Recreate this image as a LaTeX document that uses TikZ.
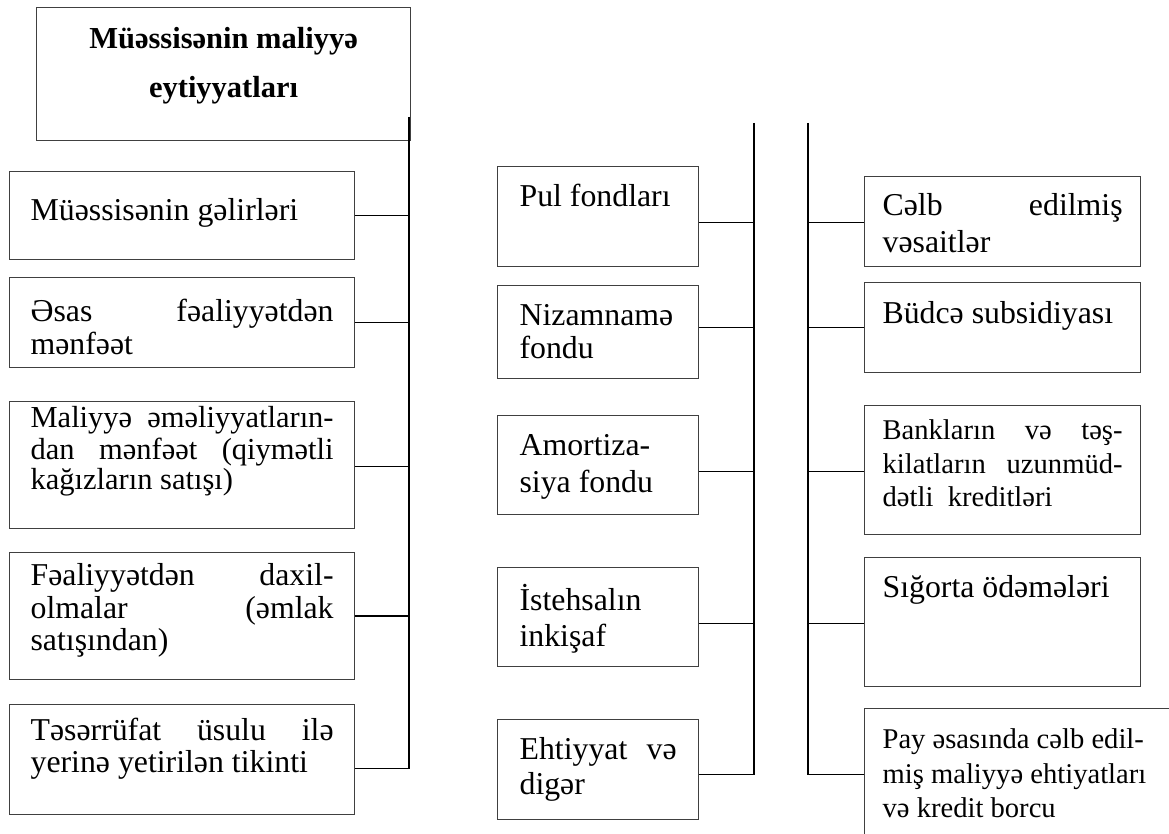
\documentclass[tikz,border=0pt]{standalone}
\usepackage{fontspec}
\setmainfont{Liberation Serif}
\usepackage{tikz}
\usetikzlibrary{positioning,calc}

% box text: height, width, first baseline, line skip, text
\newcommand{\cellText}[5]{\parbox[c][#1pt][t]{#2pt}{\baselineskip=#4pt\relax\vspace*{\dimexpr#3pt-\ht\strutbox\relax}\strut#5}}
\newcommand{\fullLine}[1]{\makebox[\linewidth][s]{#1}}

\begin{document}
\begin{tikzpicture}[x=1pt,y=-1pt]

    \tikzstyle{commonNode}=[draw=black!75, line width=1.2pt, anchor=north west, inner ysep=0pt, font=\fontsize{31.8}{32.5}\selectfont]
    \tikzstyle{leftBox}=[commonNode, inner xsep=21pt]
    \tikzstyle{midBox}=[commonNode, inner xsep=22pt]
    \tikzstyle{rightBox}=[commonNode, inner xsep=18pt]
    \tikzstyle{smallText}=[font=\fontsize{28.6}{30}\selectfont]
    \tikzstyle{mediumText}=[font=\fontsize{30.5}{30}\selectfont]
    \tikzstyle{titleBox}=[commonNode, inner xsep=10pt, font=\fontsize{30.5}{32}\selectfont\bfseries]
    \tikzstyle{spine}=[line width=2pt, black]
    \tikzstyle{link}=[line width=1.6pt, black]

    \useasboundingbox (0,0) rectangle (1169,834);
    \clip (0,0) rectangle (1169,834);

    % Title
    \node at (36,7) [titleBox] (title) {\cellText{133}{354}{41}{49}{\centering Müəssisənin maliyyə\\ eytiyyatları}};

    % Left column
    \node at (9,171) [leftBox] (L1) {\cellText{88}{303}{49}{32.5}{Müəssisənin gəlirləri}};
    \node at (9,277) [leftBox] (L2) {\cellText{90}{303}{44}{32}{\fullLine{Əsas fəaliyyətdən}\\ mənfəət}};
    \node at (9,401) [leftBox, mediumText] (L3) {\cellText{127}{303}{26}{30}{\fullLine{Maliyyə əməliyyatların-}\\ \fullLine{dan mənfəət (qiymətli}\\ kağızların satışı)}};
    \node at (9,552) [leftBox] (L4) {\cellText{127}{303}{33}{32.5}{\fullLine{Fəaliyyətdən daxil-}\\ \fullLine{olmalar (əmlak}\\ satışından)}};
    \node at (9,704) [leftBox] (L5) {\cellText{110}{303}{36}{32}{\fullLine{Təsərrüfat üsulu ilə}\\ yerinə yetirilən tikinti}};

    % Middle column
    \node at (497,166) [midBox] (M1) {\cellText{100}{157}{40}{35}{Pul fondları}};
    \node at (497,285) [midBox] (M2) {\cellText{93}{157}{40}{33}{Nizamnamə\\ fondu}};
    \node at (497,415) [midBox] (M3) {\cellText{99}{157}{40}{36.5}{Amortiza-\\ siya fondu}};
    \node at (497,567) [midBox] (M4) {\cellText{99}{157}{39}{36}{İstehsalın\\ inkişaf}};
    \node at (497,719) [midBox] (M5) {\cellText{100}{157}{39.5}{35}{\fullLine{Ehtiyyat və}\\ digər}};

    % Right column
    \node at (864,176) [rightBox] (R1) {\cellText{90}{240}{39}{36.5}{\fullLine{Cəlb edilmiş}\\ vəsaitlər}};
    \node at (864,282) [rightBox] (R2) {\cellText{90}{240}{40.5}{35}{Büdcə subsidiyası}};
    \node at (864,405) [rightBox, smallText] (R3) {\cellText{129}{240}{34}{33.5}{\fullLine{Bankların və təş-}\\ \fullLine{kilatların uzunmüd-}\\ dətli\ \ kreditləri}};
    \node at (864,557) [rightBox] (R4) {\cellText{129}{240}{40}{35}{Sığorta ödəmələri}};
    \node at (864,708) [rightBox, smallText] (R5) {\cellText{132}{290}{40}{34.5}{Pay əsasında cəlb edil-\\ miş maliyyə ehtiyatları\\ və kredit borcu}};

    % Spines
    \coordinate (spineL) at (409,117);
    \coordinate (spineM) at (754,123);
    \coordinate (spineR) at (808,123);

    % Connector points
    \coordinate (cL1) at (L1.east);
    \coordinate (cL2) at (L2.east);
    \coordinate (cL3) at ([yshift=-1.5pt]L3.east);
    \coordinate (cL4) at (L4.east);
    \coordinate (cL5) at ([yshift=-9pt]L5.east);
    \coordinate (cM1) at ([yshift=-6pt]M1.east);
    \coordinate (cM2) at ([yshift=4.5pt]M2.east);
    \coordinate (cM3) at ([yshift=-6.5pt]M3.east);
    \coordinate (cM4) at ([yshift=-6.5pt]M4.east);
    \coordinate (cM5) at ([yshift=-5pt]M5.east);
    \coordinate (cR1) at ([yshift=-1pt]R1.west);
    \coordinate (cR2) at (R2.west);
    \coordinate (cR3) at ([yshift=-1.5pt]R3.west);
    \coordinate (cR4) at ([yshift=-1.5pt]R4.west);
    \coordinate (cR5) at (R5.west);

    \draw[spine] (spineL) -- (spineL |- cL5);
    \draw[spine] (spineM) -- (spineM |- cM5);
    \draw[spine] (spineR) -- (spineR |- cR5);

    \draw[link] (cL1) -- (cL1 -| spineL);
    \draw[link] (cL2) -- (cL2 -| spineL);
    \draw[link] (cL3) -- (cL3 -| spineL);
    \draw[link] (cL4) -- (cL4 -| spineL);
    \draw[link] (cL5) -- (cL5 -| spineL);

    \draw[link] (cM1) -- (cM1 -| spineM);
    \draw[link] (cM2) -- (cM2 -| spineM);
    \draw[link] (cM3) -- (cM3 -| spineM);
    \draw[link] (cM4) -- (cM4 -| spineM);
    \draw[link] (cM5) -- (cM5 -| spineM);

    \draw[link] (spineR |- cR1) -- (cR1);
    \draw[link] (spineR |- cR2) -- (cR2);
    \draw[link] (spineR |- cR3) -- (cR3);
    \draw[link] (spineR |- cR4) -- (cR4);
    \draw[link] (spineR |- cR5) -- (cR5);

\end{tikzpicture}
\end{document}
